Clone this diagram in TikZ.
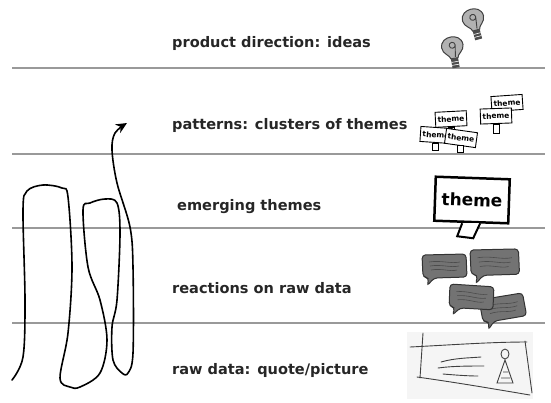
\documentclass[tikz,border=0pt]{standalone}
\usepackage{fontspec}
\setmainfont{DejaVu Sans}
\usetikzlibrary{arrows.meta, positioning}

\tikzset{
  bulb/.pic={
    \filldraw[fill=black!30, draw=black!75, line width=1bp]
      (-3,7) .. controls (-3,4) and (-9,2) .. (-9,-3) .. controls (-9,-9) and (-4,-11) .. (0,-11)
      .. controls (4,-11) and (9,-9) .. (9,-3) .. controls (9,2) and (3,4) .. (3,7) -- cycle;
    \draw[black!75, line width=0.9bp] (0,-4) circle [radius=2.5] (2.5,-4) -- (1,6);
    \fill[black!70] (-3,7) rectangle (3,15);
    \draw[white, line width=0.6bp] (-3,10) -- (3,10) (-3,12.5) -- (3,12.5);
  },
  bubble/.pic={
    \filldraw[fill=black!55, draw=black!80, line width=1bp, rounded corners=3.5bp]
      (0,0) -- (44,-1) -- (45,22) -- (12,23) -- (5,31) -- (7,23) -- (1,22) -- cycle;
    \draw[black!70, line width=0.6bp]
      (7,7) .. controls (20,5) and (28,9) .. (38,7)
      (8,11) .. controls (20,9) and (28,13) .. (37,11)
      (9,15) .. controls (20,13) and (28,17) .. (35,15);
  }
}

\begin{document}
\begin{tikzpicture}[x=1bp, y=-1bp,
    divider/.style={draw=black!40, line width=2bp},
    stage/.style={anchor=west, inner sep=0pt, text=black!85, font=\bfseries\fontsize{14.6}{17}\selectfont},
    sign/.style={draw, fill=white, line width=0.9bp, inner sep=2.2pt, minimum height=15bp, font=\bfseries\fontsize{7.5}{8}\selectfont},
    bigsign/.style={draw, fill=white, line width=2.5bp, minimum width=74bp, minimum height=44bp, font=\bfseries\fontsize{17}{18}\selectfont},
    trail/.style={line width=1.6bp, line cap=round, -{Stealth[length=11bp, width=10bp]}}
  ]
  \useasboundingbox (0,0) rectangle (551,402);

  % layers
  \foreach \y in {68,154,228,323}
    \draw[divider] (12,\y) -- (545,\y);

  % stage labels
  \node[stage] (ideas) at (172,43) {product direction: ideas};
  \node[stage] (patterns) at (172,125) {patterns: clusters of themes};
  \node[stage] (themes) at (177,207) {emerging themes};
  \node[stage] (reactions) at (172,288) {reactions on raw data};
  \node[stage] (rawdata) at (172,370) {raw data: quote/picture};

  % ideas
  \pic[rotate=15, scale=1.2] at (474,22) {bulb};
  \pic[rotate=10, scale=1.2] at (453,50) {bulb};

  % clusters of themes
  \node[sign, rotate=3] (t1) at (451,119) {theme};
  \draw[fill=white, line width=0.8bp] ([xshift=-3bp]t1.south) rectangle ([xshift=3bp, yshift=-6bp]t1.south);
  \node[sign, rotate=-4] (t2) at (436,135) {theme};
  \draw[fill=white, line width=0.8bp] ([xshift=-3bp]t2.south) rectangle ([xshift=3bp, yshift=-7bp]t2.south);
  \node[sign, rotate=-8] (t3) at (461,138) {theme};
  \draw[fill=white, line width=0.8bp] ([xshift=-3bp]t3.south) rectangle ([xshift=3bp, yshift=-7bp]t3.south);
  \node[sign, rotate=4] (t4) at (507,103) {theme};
  \node[sign, rotate=2] (t5) at (496,116) {theme};
  \draw[fill=white, line width=0.8bp] ([xshift=-3bp]t5.south) rectangle ([xshift=3bp, yshift=-9bp]t5.south);

  % one theme
  \node[bigsign, rotate=-2] (big) at (472,200) {theme};
  \draw[fill=white, line width=2bp] ([xshift=-9bp]big.south) -- ++(-5,13) -- ++(16,2) -- ([xshift=9bp]big.south);

  % reactions
  \pic at (422,255) {bubble};
  \pic[scale=1.1] at (470,250) {bubble};
  \pic[rotate=8] at (479,300) {bubble};
  \pic[rotate=-5] at (450,284) {bubble};

  % quote card
  \fill[black!4] (407,332) rectangle (533,399);
  \draw[black!75, line width=0.9bp, line cap=round]
    (410,347) .. controls (450,345) and (490,342) .. (527,342)
    (423,333) -- (420,378)
    (417,377) .. controls (460,383) and (500,390) .. (530,395)
    (525,341) -- (532,393);
  \draw[black!75, line width=0.9bp, line cap=round]
    (441,362) .. controls (455,358) and (468,358) .. (481,357)
    (438,368) .. controls (452,366) and (470,366) .. (484,366)
    (443,374) .. controls (455,375) and (468,376) .. (478,376);
  \draw[black!75, line width=0.9bp] (505,354) ellipse [x radius=4, y radius=5];
  \draw[black!75, line width=0.9bp] (505,360) -- (497,383) -- (513,383) -- cycle
    (503,372) -- (508,372) (501,378) -- (510,378);

  % the path through the layers
  \draw[trail] plot[smooth, tension=0.55] coordinates {
    (12,380) (23,357) (25,300) (23,210) (27,191) (43,185) (62,188) (68,197)
    (72,267) (68,333) (60,378) (70,387) (80,387) (100,373) (107,340) (100,300)
    (88,267) (83,210) (90,203) (105,199) (117,203) (120,233) (117,300) (112,327)
    (113,360) (122,373) (128,373) (133,353) (133,267) (130,227) (117,183)
    (112,150) (115,133) (127,123)};
\end{tikzpicture}
\end{document}
